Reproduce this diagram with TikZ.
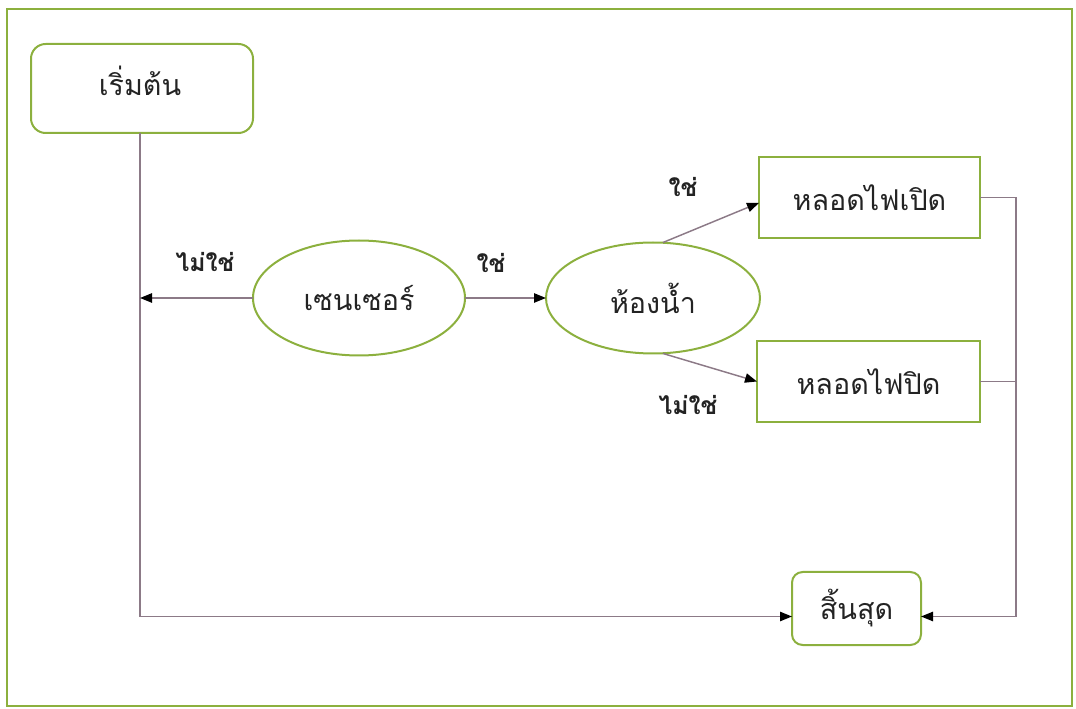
\documentclass[tikz,border=0pt]{standalone}
\usepackage{fontspec}
\newfontfamily\thaifont[Script=Thai]{Loma}
\usetikzlibrary{arrows.meta,shapes.geometric}
\definecolor{framegreen}{RGB}{140,176,62}
\definecolor{linecol}{RGB}{140,122,135}
\definecolor{txt}{RGB}{35,35,35}
\begin{document}
\begin{tikzpicture}[x=0.75pt,y=-0.75pt,
  every node/.style={text=txt,font=\thaifont\fontsize{21.5pt}{25pt}\selectfont},
  roundbox/.style={draw=framegreen,line width=1.5pt,rounded corners=11pt,inner sep=0pt,outer sep=0pt},
  sqbox/.style={draw=framegreen,line width=1.5pt,inner sep=0pt,outer sep=0pt},
  oval/.style={draw=framegreen,line width=1.5pt,ellipse,inner sep=0pt,outer sep=0pt},
  lbl/.style={font=\thaifont\bfseries\fontsize{18.5pt}{22pt}\selectfont},
  conn/.style={draw=linecol,line width=1.1pt},
  arr/.style={conn,-{Triangle[length=9pt,width=7pt,fill=black,color=black]}}
]
\useasboundingbox (0,0) rectangle (1076,709);
\draw[draw=framegreen,line width=1.8pt] (7,9) rectangle (1072,706);

\node[roundbox,minimum width=166.5pt,minimum height=66.75pt] (start) at (142,88.5) {};
\node (starttxt) at (140,81) {เริ่มต้น};
\node[oval,minimum width=159pt,minimum height=86.25pt] (sensor) at (359,298) {เซนเซอร์};
\node[oval,minimum width=160.5pt,minimum height=83.25pt] (bath) at (653,298) {ห้องน้ำ};
\node[sqbox,minimum width=165.75pt,minimum height=60.75pt] (on) at (869.5,197.5) {หลอดไฟเปิด};
\node[sqbox,minimum width=167.25pt,minimum height=60.75pt] (off) at (868.5,381.5) {หลอดไฟปิด};
\node[roundbox,rounded corners=8pt,minimum width=96.75pt,minimum height=54.75pt] (end) at (856.5,608.5) {สิ้นสุด};

\node[lbl] (l1) at (205,262) {ไม่ใช่};
\node[lbl] (l2) at (491,263) {ใช่};
\node[lbl] (l3) at (683,187) {ใช่};
\node[lbl] (l4) at (688,405) {ไม่ใช่};

\coordinate (endw) at ([yshift=-6pt]end.west);
\coordinate (ende) at ([yshift=-6pt]end.east);
\coordinate (r1) at ([xshift=27pt]on.east);

\draw[arr] (start.south -| 140,0) |- (endw);
\draw[arr] (sensor.west) -- (140,298);
\draw[arr] (sensor.east) -- (bath.west);
\draw[arr] ([xshift=7.5pt]bath.north) -- ([yshift=-4pt]on.west);
\draw[arr] ([xshift=7.5pt]bath.south) -- (off.west);
\draw[conn] (on.east) -- (r1);
\draw[conn] (off.east) -- (r1 |- off.east);
\draw[arr] (r1) |- (ende);
\end{tikzpicture}
\end{document}
